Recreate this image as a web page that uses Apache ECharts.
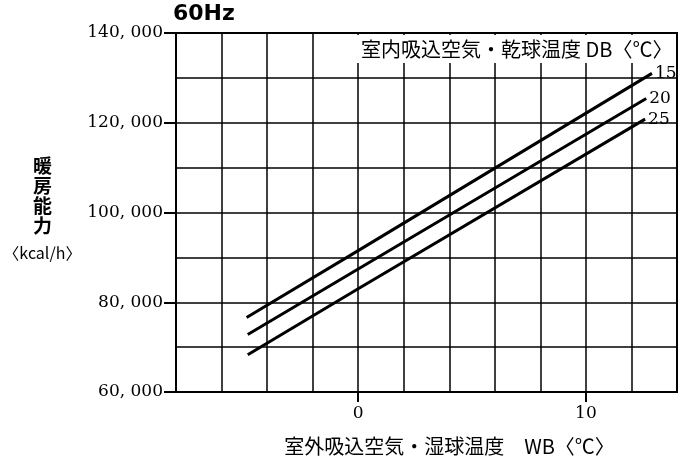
<!DOCTYPE html>
<html lang="ja">
<head>
<meta charset="UTF-8">
<title>暖房能力 60Hz</title>
<script src="https://cdn.jsdelivr.net/npm/echarts@6/dist/echarts.min.js"></script>
<style>html,body{margin:0;background:#fff;}</style>
</head>
<body>
<div id="main" style="width:683px;height:461px;"></div>
<script>
// 室内乾球温度 DB ごとの暖房能力 [WB(℃), kcal/h]
var dbNames = ['15', '20', '25'];
var db15 = [[-4.9, 76600], [0, 91500], [12.9, 131000]];
var db20 = [[-4.85, 72800], [0, 87400], [12.65, 125400]];
var db25 = [[-4.85, 68300], [0, 83000], [12.6, 120800]];

// 目盛ラベル
var xTickLabels = [0, 10];
var yTickLabels = [60000, 80000, 100000, 120000, 140000];

var serif = 'DejaVu Serif';
var jp = 'Noto Sans CJK JP';

function fmtKcal(v) {
	return String(v).replace(/\B(?=(\d{3})+(?!\d))/g, ', ');
}

var chart = echarts.init(document.getElementById('main'));

function line(name, data) {
	return {
		name: name,
		type: 'line',
		data: data,
		symbol: 'none',
		silent: true,
		lineStyle: { color: '#000', width: 3 },
		endLabel: {
			show: true,
			formatter: name,
			distance: 3,
			color: '#000',
			fontFamily: serif,
			fontSize: 17
		}
	};
}

// 方眼だけを描く軸 (ラベル・目盛なし)
var gridLine = { show: true, lineStyle: { color: '#000', width: 1.5 } };

chart.setOption({
	animation: false,
	backgroundColor: '#fff',
	title: [
		{
			text: '60Hz',
			left: 173,
			top: 3,
			padding: 0,
			textStyle: { fontFamily: 'DejaVu Sans', fontWeight: 'bold', fontSize: 22, color: '#000' }
		},
		{
			text: '室内吸込空気・乾球温度 DB〈℃〉',
			left: 342,
			top: 35,
			padding: [4, 0, 4, 19],
			backgroundColor: '#fff',
			textStyle: { fontFamily: jp, fontWeight: 'normal', fontSize: 20, lineHeight: 20, color: '#000' }
		}
	],
	grid: {
		left: 176, top: 33, right: 6, bottom: 62,
		show: true, borderColor: '#000', borderWidth: 2
	},
	xAxis: [
		{
			type: 'value',
			min: -8, max: 14,
			position: 'bottom',
			name: '室外吸込空気・湿球温度　WB〈℃〉',
			nameLocation: 'middle',
			nameGap: 44,
			nameTextStyle: { fontFamily: jp, fontSize: 20, color: '#000', padding: [0, 0, 0, 46] },
			axisLine: { onZero: false, lineStyle: { color: '#000', width: 2 } },
			axisTick: { customValues: xTickLabels, length: 10, lineStyle: { color: '#000', width: 2 } },
			axisLabel: { customValues: xTickLabels, margin: 13, fontFamily: serif, fontSize: 17, color: '#000' },
			splitLine: { show: false }
		},
		{
			type: 'value',
			min: -8, max: 14, interval: 2,
			position: 'top',
			axisLine: { show: false, onZero: false },
			axisTick: { show: false },
			axisLabel: { show: false },
			splitLine: gridLine
		}
	],
	yAxis: [
		{
			type: 'value',
			min: 60000, max: 140000,
			position: 'left',
			name: '{a|暖\n房\n能\n力}\n{b|〈kcal/h〉}',
			nameLocation: 'middle',
			nameRotate: 0,
			nameGap: 120,
			nameTextStyle: {
				align: 'center',
				verticalAlign: 'middle',
				rich: {
					a: { fontFamily: jp, fontSize: 19, lineHeight: 20, color: '#000', fontWeight: 'bold' },
					b: { fontFamily: jp, fontSize: 16, lineHeight: 34, color: '#000' }
				}
			},
			axisLine: { onZero: false, lineStyle: { color: '#000', width: 2 } },
			axisTick: { customValues: yTickLabels, length: 12, lineStyle: { color: '#000', width: 2 } },
			axisLabel: { customValues: yTickLabels, margin: 13, fontFamily: serif, fontSize: 17, color: '#000', formatter: fmtKcal },
			splitLine: { show: false }
		},
		{
			type: 'value',
			min: 60000, max: 140000, interval: 10000,
			position: 'right',
			axisLine: { show: false, onZero: false },
			axisTick: { show: false },
			axisLabel: { show: false },
			splitLine: gridLine
		}
	],
	series: [
		line(dbNames[0], db15),
		line(dbNames[1], db20),
		line(dbNames[2], db25)
	]
});
</script>
</body>
</html>
